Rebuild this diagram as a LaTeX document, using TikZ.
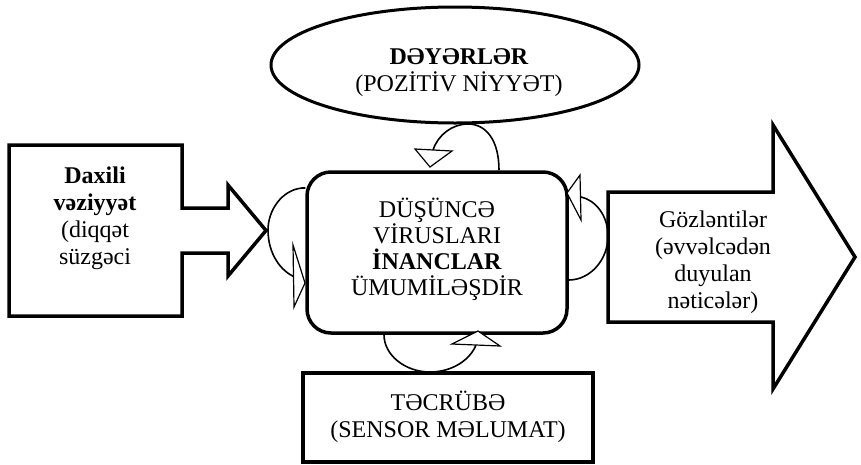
\documentclass[tikz,border=0pt]{standalone}
\usepackage{fontspec}
\setmainfont{Liberation Serif}
\usetikzlibrary{shapes.geometric}
\begin{document}
\begin{tikzpicture}[x=1pt,y=-1pt,
  heavy/.style={line width=3.5pt, line join=miter},
  loopline/.style={line width=1.6pt},
  tipmark/.style={line width=1.2pt, fill=white, line join=miter},
  txt/.style={align=center, inner sep=0pt, font=\fontsize{24}{27}\selectfont}]
\useasboundingbox (0,0) rectangle (861,464);

% input block arrow (box with a short arrow attached)
\draw[heavy] (9,145) -- (182,145) -- (182,208) -- (228,208) -- (228,185)
  -- (266,230.5) -- (228,276) -- (228,253) -- (182,253) -- (182,316)
  -- (9,316) -- cycle;
\node[txt] (inputtext) at (95,218)
  {\textbf{Daxili}\\\textbf{vəziyyət}\\(diqqət\\süzgəci};

% output block arrow
\draw[heavy] (608,192) -- (773,192) -- (773,125) -- (855,257) -- (773,389)
  -- (773,322) -- (608,322) -- cycle;
\node[txt] (outputtext) at (713,262)
  {Gözləntilər\\(əvvəlcədən\\duyulan\\nəticələr)};

% values ellipse
\node[draw, ellipse, line width=3pt, minimum width=368pt, minimum height=116pt,
  inner sep=0pt] (values) at (455,65) {};
\node[txt] (valuestext) at (459,73) {\textbf{DƏYƏRLƏR}\\(POZİTİV NİYYƏT)};

% central rounded box
\node[draw, rounded corners=24pt, line width=3.5pt, minimum width=260pt,
  minimum height=161pt, inner sep=0pt] (core) at (437,252.5) {};
\node[txt, font=\fontsize{24}{26}\selectfont] (coretext) at (437,249)
  {DÜŞÜNCƏ\\VİRUSLARI\\\textbf{İNANCLAR}\\ÜMUMİLƏŞDİR};

% experience box
\node[draw, line width=3.3pt, minimum width=290pt, minimum height=89pt,
  inner sep=0pt] (experience) at (448,417.5) {};
\node[txt] (experiencetext) at (448,416.5) {TƏCRÜBƏ\\(SENSOR MƏLUMAT)};

% feedback loops around the central box
\draw[loopline] (core.north -| 499,0) .. controls (499,140) and (486,124)
  .. (468,124) .. controls (452,124) and (438,135) .. (433,150);
\draw[tipmark] (415,149) -- (452,151) -- (430,167) -- cycle;

\draw[loopline] (core.west |- 0,188) -- (302,188) .. controls (282,190) and (268,210)
  .. (268,230) .. controls (268,255) and (282,272) .. (295,277);
\draw[tipmark] (293,245) -- (305,283) -- (294,307) -- cycle;

\draw[loopline] (core.east |- 0,280) .. controls (590,280) and (608,260)
  .. (608,236) .. controls (608,215) and (595,200) .. (581,197);
\draw[tipmark] (580,175) -- (581,220) -- (567,193) -- cycle;

\draw[loopline] (core.south -| 384,0) .. controls (384,355) and (405,372)
  .. (430,372) .. controls (452,372) and (470,360) .. (476,345);
\draw[tipmark] (452,344) -- (500,346) -- (478,331) -- cycle;
\end{tikzpicture}
\end{document}
